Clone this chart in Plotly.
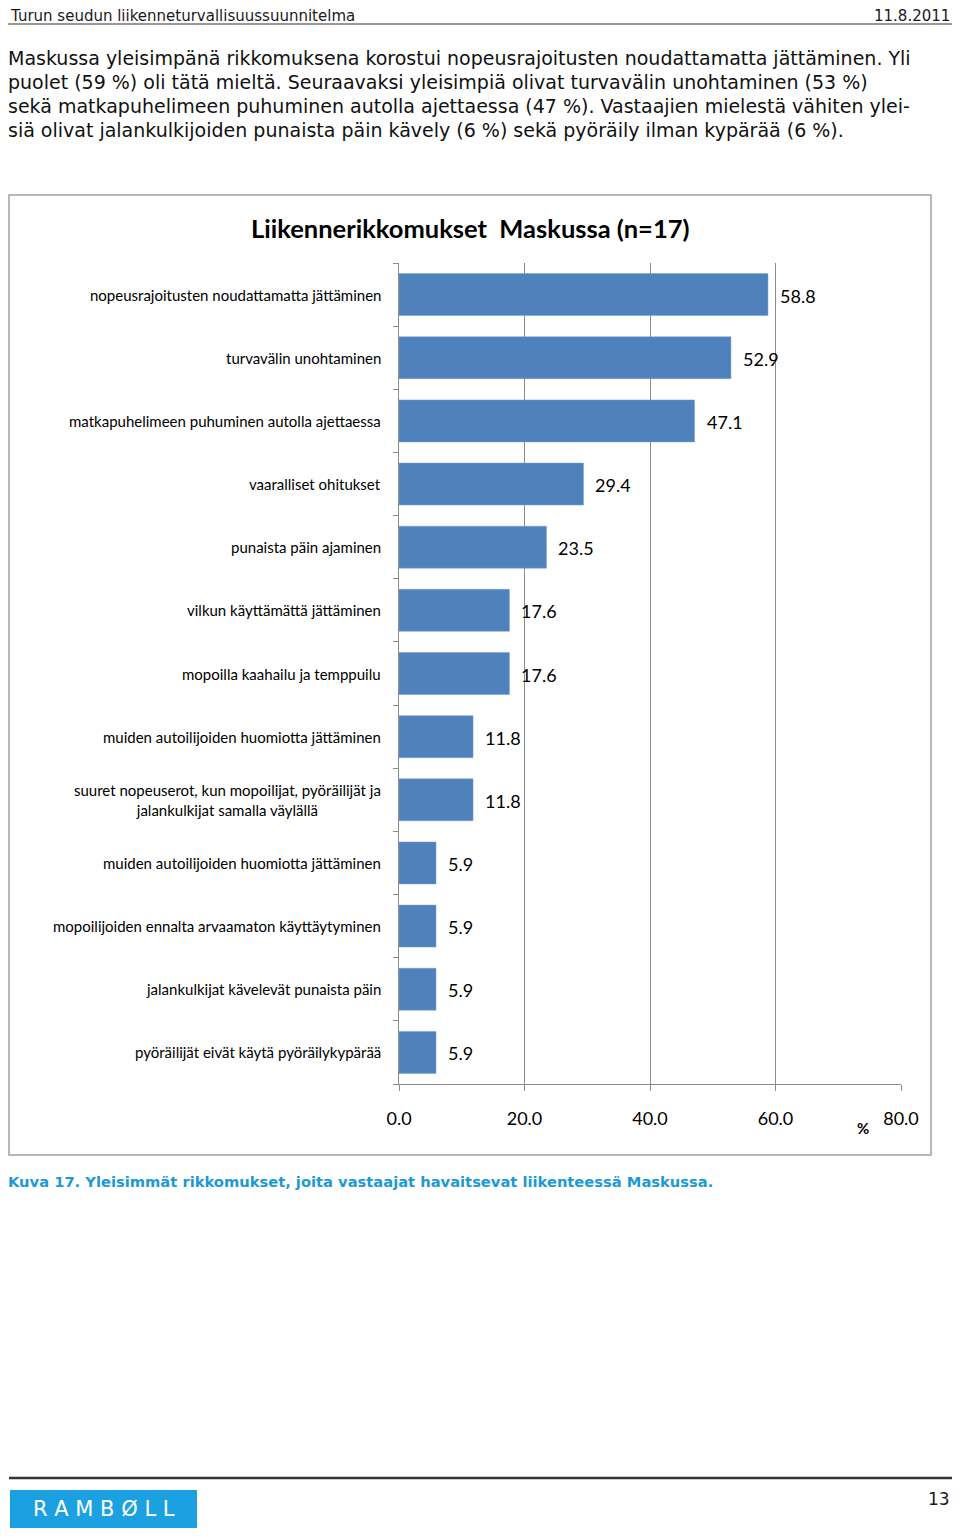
import plotly.graph_objects as go

# ---------------- data ----------------
categories = [
    "nopeusrajoitusten noudattamatta jättäminen",
    "turvavälin unohtaminen",
    "matkapuhelimeen puhuminen autolla ajettaessa",
    "vaaralliset ohitukset",
    "punaista päin ajaminen",
    "vilkun käyttämättä jättäminen",
    "mopoilla kaahailu ja temppuilu",
    "muiden autoilijoiden huomiotta jättäminen",
    "suuret nopeuserot, kun mopoilijat, pyöräilijät ja<br>jalankulkijat samalla väylällä",
    "muiden autoilijoiden huomiotta jättäminen",
    "mopoilijoiden ennalta arvaamaton käyttäytyminen",
    "jalankulkijat kävelevät punaista päin",
    "pyöräilijät eivät käytä pyöräilykypärää",
]
values = [58.8, 52.9, 47.1, 29.4, 23.5, 17.6, 17.6, 11.8, 11.8, 5.9, 5.9, 5.9, 5.9]
x_ticks = [0, 20, 40, 60, 80]

title = "Liikennerikkomukset  Maskussa (n=17)"
header_left = "Turun seudun liikenneturvallisuussuunnitelma"
header_right = "11.8.2011"
paragraph = [
    "Maskussa yleisimpänä rikkomuksena korostui nopeusrajoitusten noudattamatta jättäminen. Yli",
    "puolet (59 %) oli tätä mieltä. Seuraavaksi yleisimpiä olivat turvavälin unohtaminen (53 %)",
    "sekä matkapuhelimeen puhuminen autolla ajettaessa (47 %). Vastaajien mielestä vähiten ylei-",
    "siä olivat jalankulkijoiden punaista päin kävely (6 %) sekä pyöräily ilman kypärää (6 %).",
]
caption = "Kuva 17. Yleisimmät rikkomukset, joita vastaajat havaitsevat liikenteessä Maskussa."
page_number = "13"

# ---------------- geometry (reference page pixels) ----------------
OFF = 8                      # page body margin in the browser
FW, FH = 960 - OFF, 1536 - OFF
L, R, T, B = 399, 901, 263, 1084
W, H = R - L, B - T


def px(x):
    return (x - L) / W


def py(y):
    return 1 - (y - T) / H


pos = list(range(len(categories)))
CHART_FONT = "Lato, 'Open Sans', sans-serif"
PAGE_FONT = "'DejaVu Sans', sans-serif"

fig = go.Figure()
fig.add_trace(go.Bar(
    x=values, y=pos, orientation="h",
    marker=dict(color="#4F81BD", line=dict(color="#7a9fd0", width=0.5)),
    width=0.665, hoverinfo="skip",
))

annotations = []
for i, c in enumerate(categories):
    annotations.append(dict(
        x=px(383), y=i, xref="paper", yref="y", text=c, showarrow=False,
        xanchor="right", yanchor="middle", align="center",
        font=dict(family=CHART_FONT, size=15, color="#000000"),
    ))
for i, v in enumerate(values):
    annotations.append(dict(
        x=v, y=i, xref="x", yref="y", text=f"{v:.1f}", showarrow=False,
        xanchor="left", yanchor="middle", xshift=10, yshift=-1,
        font=dict(family=CHART_FONT, size=18, color="#000000"),
    ))

annotations.append(dict(
    x=px(470), y=py(228), xref="paper", yref="paper", text=f"<b>{title}</b>",
    showarrow=False, xanchor="center", yanchor="middle",
    font=dict(family=CHART_FONT, size=25.5, color="#000000"),
))
annotations.append(dict(
    x=px(863), y=py(1128), xref="paper", yref="paper", text="<b>%</b>",
    showarrow=False, xanchor="center", yanchor="middle",
    font=dict(family=CHART_FONT, size=15, color="#000000"),
))
annotations.append(dict(
    x=px(8), y=py(16), xref="paper", yref="paper", text=header_left,
    showarrow=False, xanchor="left", yanchor="middle",
    font=dict(family=PAGE_FONT, size=15, color="#1a1a1a"),
))
annotations.append(dict(
    x=px(952), y=py(16), xref="paper", yref="paper", text=header_right,
    showarrow=False, xanchor="right", yanchor="middle",
    font=dict(family=PAGE_FONT, size=15, color="#1a1a1a"),
))
for k, line in enumerate(paragraph):
    annotations.append(dict(
        x=px(6), y=py(58 + 24 * k), xref="paper", yref="paper", text=line,
        showarrow=False, xanchor="left", yanchor="middle",
        font=dict(family=PAGE_FONT, size=19, color="#111111"),
    ))
annotations.append(dict(
    x=px(6), y=py(1181), xref="paper", yref="paper", text=f"<b>{caption}</b>",
    showarrow=False, xanchor="left", yanchor="middle",
    font=dict(family=PAGE_FONT, size=14.7, color="#1b9ad6"),
))
annotations.append(dict(
    x=px(952), y=py(1499), xref="paper", yref="paper", text=page_number,
    showarrow=False, xanchor="right", yanchor="middle",
    font=dict(family=PAGE_FONT, size=17, color="#1a1a1a"),
))
annotations.append(dict(
    x=px(104), y=py(1509), xref="paper", yref="paper",
    text="R A M B Ø L L", showarrow=False, xanchor="center", yanchor="middle",
    font=dict(family="'DejaVu Sans', sans-serif", size=21, color="#ffffff"),
))

shapes = [
    dict(type="line", xref="paper", yref="paper", x0=px(6), x1=px(958), y0=py(24), y1=py(24),
         line=dict(color="#333333", width=1.2)),
    dict(type="rect", xref="paper", yref="paper", x0=px(9), x1=px(931), y0=py(195), y1=py(1155),
         line=dict(color="#a0a0a0", width=1.5)),
    dict(type="line", xref="paper", yref="paper", x0=px(9), x1=px(958), y0=py(1478), y1=py(1478),
         line=dict(color="#333333", width=2.5)),
    dict(type="rect", xref="paper", yref="paper", x0=px(10), x1=px(197), y0=py(1490), y1=py(1528),
         line=dict(color="#1ba1e2", width=0), fillcolor="#1ba1e2"),
]

fig.update_layout(
    width=FW, height=FH, autosize=False,
    margin=dict(l=L - OFF, r=960 - R, t=T - OFF, b=1536 - B, pad=0),
    paper_bgcolor="#ffffff", plot_bgcolor="#ffffff",
    showlegend=False, bargap=0.33,
    annotations=annotations, shapes=shapes,
    xaxis=dict(
        range=[0, 80], tickvals=x_ticks, tickformat=".1f",
        showgrid=True, gridcolor="#8c8c8c", gridwidth=1,
        showline=True, linecolor="#8c8c8c", linewidth=1,
        zeroline=False, ticks="outside", ticklen=6, tickcolor="#8c8c8c",
        ticklabelstandoff=12,
        tickfont=dict(family=CHART_FONT, size=18, color="#000000"),
    ),
    yaxis=dict(
        range=[len(categories) - 0.5, -0.5],
        tickvals=[i - 0.5 for i in range(len(categories) + 1)],
        showticklabels=False, showgrid=False, zeroline=False,
        showline=True, linecolor="#8c8c8c", linewidth=1,
        ticks="outside", ticklen=5, tickcolor="#8c8c8c",
    ),
)

fig.write_html("out.html")
